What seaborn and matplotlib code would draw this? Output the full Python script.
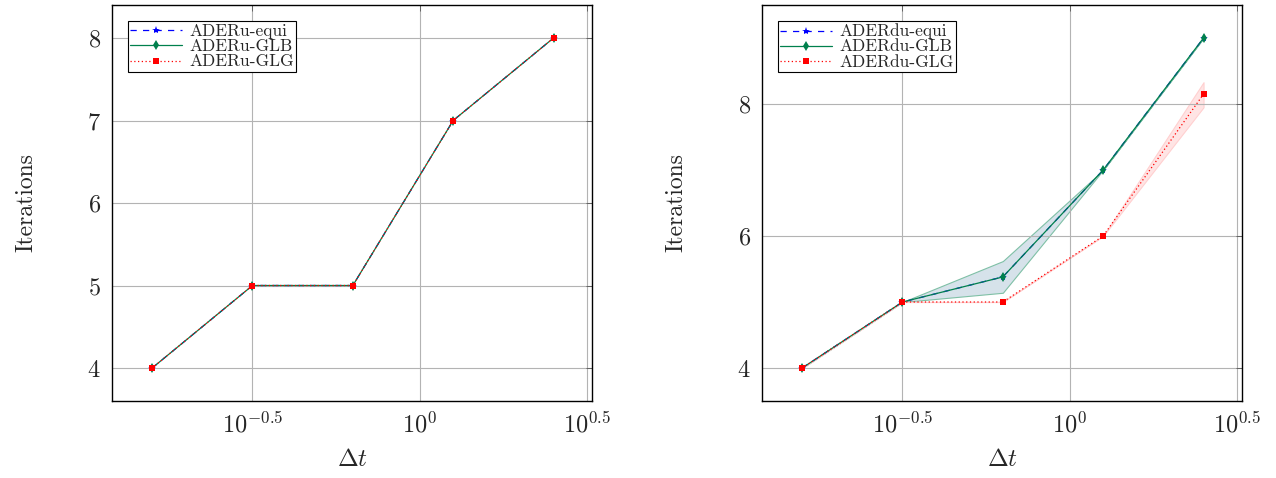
import numpy as np
import pandas as pd
import matplotlib
matplotlib.use("Agg")
import matplotlib.pyplot as plt
import seaborn as sns

sns.set_style("white")
plt.rcParams["font.family"] = ["cmr10", "DejaVu Serif"]
plt.rcParams["mathtext.fontset"] = "cm"
plt.rcParams["axes.formatter.use_mathtext"] = True
plt.rcParams["axes.unicode_minus"] = True

# data
dt = [10 ** -0.8, 10 ** -0.5, 10 ** -0.2, 10 ** 0.1, 10 ** 0.4]

u_equi = [4, 5, 5, 7, 8]
u_glb = [4, 5, 5, 7, 8]
u_glg = [4, 5, 5, 7, 8]

du_equi = [4, 5, 5.38, 7, 9]
du_glb = [4, 5, 5.38, 7, 9]
du_glb_lo = [4, 5, 5.14, 7, 9]
du_glb_hi = [4, 5, 5.62, 7, 9]
du_glg = [4, 5, 5, 6, 8.15]
du_glg_lo = [4, 5, 5, 6, 7.95]
du_glg_hi = [4, 5, 5, 6, 8.33]

blue = "#0000ff"
green = "#00804d"
red = "#ff0000"

fig = plt.figure(figsize=(12.76, 4.78), dpi=100)
ax1 = fig.add_axes([112 / 1276, 1 - 401 / 478, 480 / 1276, 396 / 478])
ax2 = fig.add_axes([762 / 1276, 1 - 401 / 478, 480 / 1276, 396 / 478])


def draw(ax, names, ys, bands, ylim, yticks):
    styles = [
        dict(color=blue, linestyle=(0, (5, 5)), marker="*", markersize=6, linewidth=0.9),
        dict(color=green, linestyle="-", marker="d", markersize=5, linewidth=0.9),
        dict(color=red, linestyle=(0, (1, 2)), marker="s", markersize=5, linewidth=0.9),
    ]
    for name, y, st in zip(names, ys, styles):
        df = pd.DataFrame({"dt": dt, "it": y})
        sns.lineplot(data=df, x="dt", y="it", ax=ax, label=name,
                     markeredgewidth=0, **st)
    for lo, hi, fc, ec in bands:
        ax.fill_between(dt, lo, hi, facecolor=fc, edgecolor=ec,
                        linewidth=0.8, zorder=0)
    ax.set_xscale("log")
    ax.set_xlim(10 ** -0.92, 10 ** 0.515)
    ax.set_ylim(*ylim)
    ax.set_xticks([10 ** -0.5, 1, 10 ** 0.5])
    ax.set_xticklabels([r"$10^{-0.5}$", r"$10^{0}$", r"$10^{0.5}$"])
    ax.xaxis.set_minor_locator(matplotlib.ticker.NullLocator())
    ax.set_yticks(yticks)
    ax.set_yticklabels([rf"${v}$" for v in yticks])
    ax.grid(True, color="#b3b3b3", linewidth=0.8)
    ax.tick_params(direction="in", length=4, width=0.6, labelsize=17.5,
                   top=True, right=True, color="#555555", pad=8)
    for s in ax.spines.values():
        s.set_color("black")
        s.set_linewidth(1.0)
    ax.set_xlabel(r"$\Delta t$", fontsize=18, labelpad=8)
    ax.set_ylabel("Iterations", fontsize=17, labelpad=36)
    leg = ax.legend(loc="upper left", fontsize=12.5, fancybox=False,
                    framealpha=1, edgecolor="black", handlelength=3.0,
                    handleheight=0.5, borderpad=0.15, labelspacing=0.0,
                    handletextpad=0.4, borderaxespad=0.9)
    leg.get_frame().set_linewidth(0.8)


draw(ax1, ["ADERu-equi", "ADERu-GLB", "ADERu-GLG"],
     [u_equi, u_glb, u_glg], [], (3.6, 8.4), [4, 5, 6, 7, 8])
draw(ax2, ["ADERdu-equi", "ADERdu-GLB", "ADERdu-GLG"],
     [du_equi, du_glb, du_glg],
     [(du_glb_lo, du_glb_hi, "#d6e2ea", "#7fc0a6"),
      (du_glg_lo, du_glg_hi, "#ffe4e4", "#ffd0d0")],
     (3.5, 9.5), [4, 6, 8])

fig.savefig("out.png", dpi=100)
